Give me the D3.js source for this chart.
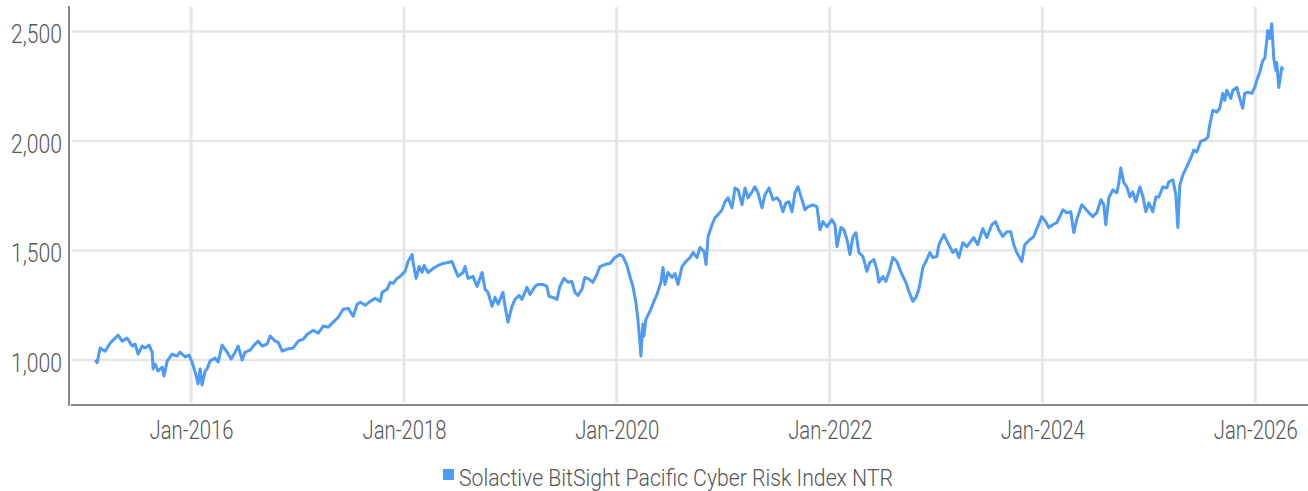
<!DOCTYPE html>
<html>
<head>
<meta charset="utf-8">
<script src="https://cdn.jsdelivr.net/npm/d3@7"></script>
<style>
  body { margin: 0; background: #fff; }
  text { font-family: Roboto, "Noto Sans", sans-serif; font-weight: 300; fill: #555555; }
</style>
</head>
<body>
<div id="chart"></div>
<script>
// chart values
var SERIES_NAME  = 'Solactive BitSight Pacific Cyber Risk Index NTR';
var Y_TICKS      = [1000, 1500, 2000, 2500];
var X_TICK_YEARS = [2016, 2018, 2020, 2022, 2024, 2026];

// [decimal year, index level]
var LEVELS = [
  [2015.098,1000],[2015.117,988],[2015.145,1055],[2015.192,1040],[2015.239,1077],[2015.286,1100],[2015.314,1114],
  [2015.352,1086],[2015.399,1100],[2015.446,1064],[2015.474,1073],[2015.502,1027],[2015.540,1064],[2015.568,1055],
  [2015.605,1068],[2015.634,1036],[2015.643,959],[2015.662,982],[2015.690,950],[2015.728,968],[2015.746,927],
  [2015.775,995],[2015.822,1027],[2015.868,1018],[2015.897,1036],[2015.944,1014],[2015.981,1023],
  [2016.009,991],[2016.038,945],[2016.066,891],[2016.085,959],[2016.103,886],[2016.132,950],[2016.150,959],
  [2016.178,995],[2016.225,1009],[2016.254,991],[2016.291,1068],[2016.338,1036],[2016.376,1005],[2016.413,1036],
  [2016.442,1064],[2016.479,1000],[2016.507,1036],[2016.554,1045],[2016.601,1073],[2016.629,1086],[2016.667,1064],
  [2016.714,1073],[2016.742,1109],[2016.789,1086],[2016.817,1082],[2016.855,1041],[2016.902,1050],[2016.958,1055],
  [2017.005,1086],[2017.052,1095],[2017.090,1118],[2017.146,1136],[2017.193,1123],[2017.240,1155],[2017.287,1150],
  [2017.334,1173],[2017.381,1195],[2017.428,1232],[2017.475,1236],[2017.522,1200],[2017.559,1255],[2017.588,1264],
  [2017.635,1250],[2017.682,1268],[2017.729,1282],[2017.776,1268],[2017.794,1309],[2017.841,1323],[2017.869,1355],
  [2017.898,1350],[2017.935,1373],[2017.963,1382],
  [2018.010,1405],[2018.038,1450],[2018.076,1482],[2018.085,1445],[2018.114,1373],[2018.142,1427],[2018.170,1400],
  [2018.189,1432],[2018.226,1400],[2018.273,1418],[2018.320,1432],[2018.367,1441],[2018.414,1445],[2018.452,1450],
  [2018.480,1414],[2018.508,1382],[2018.555,1400],[2018.574,1427],[2018.602,1373],[2018.649,1382],[2018.687,1336],
  [2018.734,1400],[2018.762,1323],[2018.790,1309],[2018.828,1245],[2018.856,1286],[2018.884,1255],[2018.931,1309],
  [2018.950,1245],[2018.978,1173],[2019.015,1245],[2019.044,1277],[2019.081,1295],[2019.109,1277],[2019.156,1332],
  [2019.185,1300],[2019.232,1336],[2019.260,1345],[2019.307,1345],[2019.344,1336],[2019.363,1291],[2019.401,1286],
  [2019.438,1277],[2019.466,1336],[2019.504,1373],[2019.542,1355],[2019.579,1359],[2019.607,1309],[2019.636,1295],
  [2019.673,1323],[2019.701,1377],[2019.729,1373],[2019.776,1355],[2019.814,1391],[2019.842,1427],[2019.889,1436],
  [2019.936,1441],[2019.983,1468],
  [2020.030,1482],[2020.058,1473],[2020.096,1432],[2020.124,1382],[2020.152,1336],[2020.180,1264],[2020.199,1186],
  [2020.218,1082],[2020.227,1018],[2020.246,1164],[2020.255,1109],[2020.274,1186],[2020.321,1232],[2020.349,1268],
  [2020.378,1300],[2020.415,1355],[2020.434,1423],[2020.453,1345],[2020.481,1400],[2020.519,1377],[2020.547,1395],
  [2020.575,1345],[2020.613,1427],[2020.650,1450],[2020.688,1468],[2020.716,1491],[2020.753,1468],[2020.782,1514],
  [2020.819,1495],[2020.838,1436],[2020.857,1564],[2020.894,1618],[2020.922,1650],[2020.951,1664],[2020.988,1686],
  [2021.016,1723],[2021.045,1741],[2021.082,1695],[2021.110,1786],[2021.139,1777],[2021.176,1709],[2021.204,1786],
  [2021.232,1741],[2021.270,1768],[2021.298,1791],[2021.326,1764],[2021.364,1695],[2021.392,1755],[2021.430,1786],
  [2021.467,1732],[2021.505,1741],[2021.533,1723],[2021.561,1677],[2021.589,1718],[2021.618,1723],[2021.646,1677],
  [2021.674,1764],[2021.702,1791],[2021.740,1732],[2021.768,1686],[2021.796,1700],[2021.843,1709],[2021.881,1700],
  [2021.909,1595],[2021.937,1632],[2021.975,1609],
  [2022.022,1641],[2022.050,1618],[2022.069,1518],[2022.106,1605],[2022.134,1595],[2022.163,1550],[2022.191,1482],
  [2022.219,1564],[2022.247,1582],[2022.275,1491],[2022.313,1473],[2022.350,1405],[2022.378,1445],[2022.416,1459],
  [2022.444,1414],[2022.463,1355],[2022.501,1382],[2022.529,1359],[2022.566,1414],[2022.594,1468],[2022.632,1450],
  [2022.660,1414],[2022.689,1382],[2022.717,1355],[2022.745,1314],[2022.783,1268],[2022.811,1286],[2022.839,1323],
  [2022.877,1423],[2022.914,1459],[2022.942,1491],[2022.970,1468],[2023.008,1473],[2023.027,1527],[2023.074,1573],
  [2023.111,1536],[2023.158,1491],[2023.187,1505],[2023.215,1468],[2023.252,1536],[2023.290,1518],[2023.318,1536],
  [2023.355,1559],[2023.393,1527],[2023.440,1600],[2023.478,1559],[2023.525,1618],[2023.562,1632],[2023.590,1595],
  [2023.628,1564],[2023.666,1586],[2023.703,1586],[2023.731,1527],[2023.760,1491],[2023.807,1450],[2023.835,1527],
  [2023.872,1545],[2023.919,1564],[2023.957,1609],[2023.994,1655],
  [2024.032,1632],[2024.060,1605],[2024.098,1618],[2024.135,1627],[2024.173,1664],[2024.192,1686],[2024.229,1673],
  [2024.267,1677],[2024.295,1582],[2024.323,1641],[2024.370,1709],[2024.398,1695],[2024.436,1673],[2024.473,1655],
  [2024.511,1673],[2024.549,1732],[2024.577,1709],[2024.595,1618],[2024.624,1741],[2024.661,1777],[2024.699,1764],
  [2024.718,1809],[2024.736,1877],[2024.765,1809],[2024.793,1791],[2024.821,1745],[2024.849,1768],[2024.877,1723],
  [2024.915,1791],[2024.943,1748],[2024.971,1677],[2025.000,1718],[2025.037,1677],[2025.065,1745],[2025.093,1745],
  [2025.131,1791],[2025.168,1786],[2025.187,1814],[2025.225,1823],[2025.253,1755],[2025.272,1605],[2025.291,1800],
  [2025.319,1845],[2025.356,1882],[2025.394,1923],[2025.422,1959],[2025.450,1950],[2025.488,2000],[2025.525,2005],
  [2025.554,2018],[2025.572,2073],[2025.601,2141],[2025.638,2132],[2025.666,2150],[2025.695,2218],[2025.713,2186],
  [2025.732,2232],[2025.770,2195],[2025.789,2232],[2025.826,2245],[2025.854,2195],[2025.882,2150],[2025.901,2218],
  [2025.929,2223],[2025.967,2218],[2025.995,2245],
  [2026.014,2277],[2026.042,2314],[2026.070,2368],[2026.089,2377],[2026.108,2459],[2026.117,2505],[2026.136,2468],
  [2026.155,2536],[2026.174,2377],[2026.193,2323],[2026.202,2359],[2026.221,2245],[2026.249,2336],[2026.258,2323]
];

// layout
var WIDTH = 1308, HEIGHT = 491;
var LINE_COLOR = '#4d9af7';
var GRID_COLOR = '#e6e6e6';
var AXIS_COLOR = '#888888';

// turn a decimal year into a Date
function toDate(t) {
    var yr = Math.floor(t);
    var a = new Date(yr, 0, 1), b = new Date(yr + 1, 0, 1);
    return new Date(+a + (t - yr) * (b - a));
}

var x = d3.scaleTime()
          .domain([new Date(2014, 10, 8), new Date(2026, 6, 1)])
          .range([69, WIDTH]);

var y = d3.scaleLinear()
          .domain([790, 2617])
          .range([406, 6]);

var xTicks = X_TICK_YEARS.map(function(yr) { return new Date(yr, 0, 1); });

var svg = d3.select('#chart')
            .append('svg')
            .attr('width', WIDTH)
            .attr('height', HEIGHT);

// horizontal grid
svg.append('g')
   .selectAll('line')
   .data(Y_TICKS)
   .enter()
   .append('line')
   .attr('x1', 72)
   .attr('x2', WIDTH)
   .attr('y1', function(d) { return y(d); })
   .attr('y2', function(d) { return y(d); })
   .attr('stroke', GRID_COLOR)
   .attr('stroke-width', 2.5);

// vertical grid
svg.append('g')
   .selectAll('line')
   .data(xTicks)
   .enter()
   .append('line')
   .attr('x1', function(d) { return x(d); })
   .attr('x2', function(d) { return x(d); })
   .attr('y1', 7)
   .attr('y2', 403)
   .attr('stroke', GRID_COLOR)
   .attr('stroke-width', 3);

// the index line
var line = d3.line()
             .x(function(d) { return x(toDate(d[0])); })
             .y(function(d) { return y(d[1]); });

svg.append('path')
   .datum(LEVELS)
   .attr('d', line)
   .attr('fill', 'none')
   .attr('stroke', LINE_COLOR)
   .attr('stroke-width', 3)
   .attr('stroke-linejoin', 'round');

// axis lines
svg.append('line')
   .attr('x1', 69).attr('x2', 69).attr('y1', 6).attr('y2', 406)
   .attr('stroke', AXIS_COLOR).attr('stroke-width', 2);
svg.append('line')
   .attr('x1', 71).attr('x2', WIDTH).attr('y1', 405).attr('y2', 405)
   .attr('stroke', AXIS_COLOR).attr('stroke-width', 2);

// x labels
var xAxis = svg.append('g')
               .attr('transform', 'translate(0,405)')
               .call(d3.axisBottom(x)
                       .tickValues(xTicks)
                       .tickSize(0)
                       .tickPadding(16)
                       .tickFormat(d3.timeFormat('%b-%Y')));
xAxis.select('.domain').remove();
xAxis.selectAll('text')
     .attr('font-size', 25)
     .attr('font-family', null)
     .attr('textLength', 84)
     .attr('lengthAdjust', 'spacingAndGlyphs');

// y labels
var yAxis = svg.append('g')
               .attr('transform', 'translate(69,0)')
               .call(d3.axisLeft(y)
                       .tickValues(Y_TICKS)
                       .tickSize(0)
                       .tickPadding(7)
                       .tickFormat(d3.format(',')));
yAxis.select('.domain').remove();
yAxis.selectAll('text')
     .attr('font-size', 25)
     .attr('font-family', null)
     .attr('dy', '0.44em')
     .attr('textLength', 51)
     .attr('lengthAdjust', 'spacingAndGlyphs');

// legend
var legend = svg.append('g');
legend.append('rect')
      .attr('x', 443).attr('y', 469)
      .attr('width', 11).attr('height', 11)
      .attr('fill', LINE_COLOR);
legend.append('text')
      .attr('x', 459).attr('y', 486)
      .attr('font-size', 24)
      .attr('textLength', 434)
      .attr('lengthAdjust', 'spacingAndGlyphs')
      .text(SERIES_NAME);
</script>
</body>
</html>
